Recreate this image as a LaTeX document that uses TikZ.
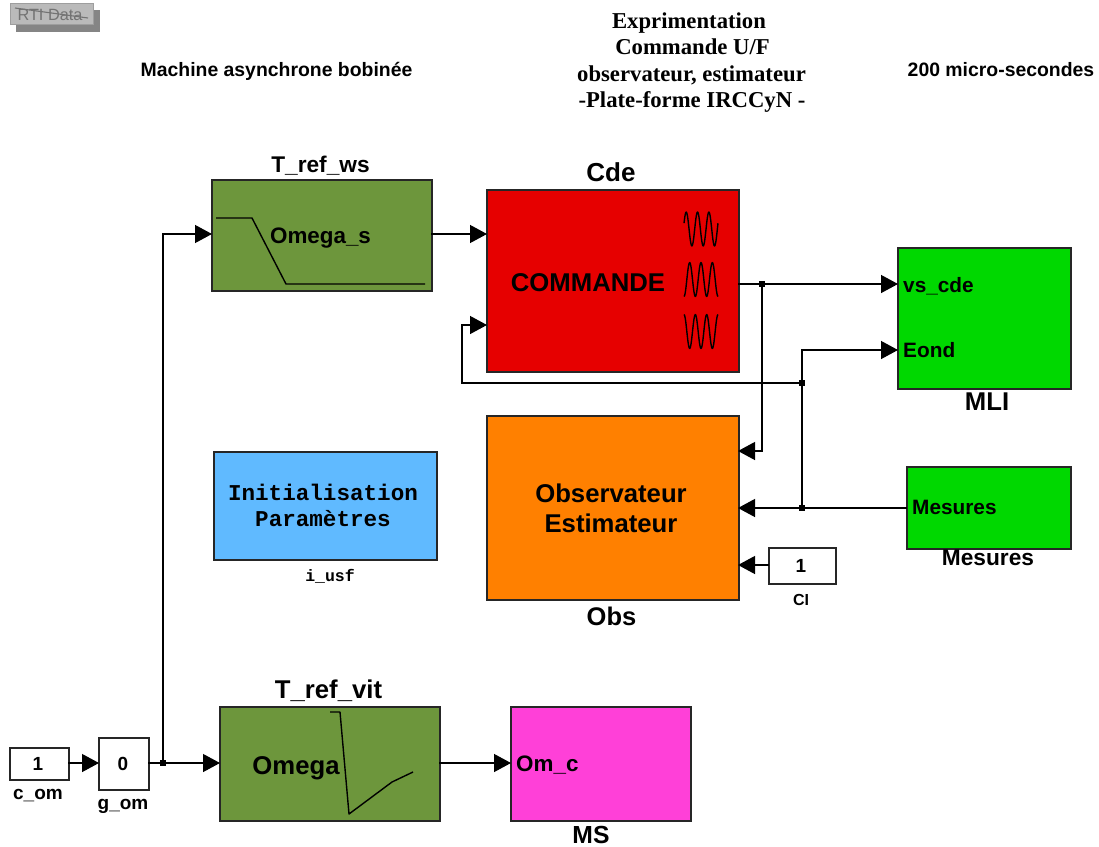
\documentclass[tikz,border=0pt]{standalone}
\usepackage{fontspec}
\setmainfont{Liberation Sans}
\newfontfamily\titleserif{Liberation Serif}
\newfontfamily\blockmono{Liberation Mono}
\usetikzlibrary{arrows.meta,shadows,positioning,calc}
\definecolor{olivegreen}{HTML}{6D963C}
\definecolor{cderred}{HTML}{E60000}
\definecolor{mligreen}{HTML}{00D800}
\definecolor{obsorange}{HTML}{FF8000}
\definecolor{initblue}{HTML}{60BAFF}
\definecolor{mspink}{HTML}{FF40D8}
\tikzset{
  x=1pt,y=1pt,
  block/.style={draw=black!85,line width=1.7pt,inner sep=0pt,anchor=north west,xshift=-1pt,yshift=1pt,
    drop shadow={shadow xshift=1.2pt,shadow yshift=-1.2pt,fill=black!40,opacity=1}},
  wire/.style={draw=black,line width=1.3pt,-{Triangle[length=17pt,width=18pt]},shorten >=0pt},
  plainwire/.style={draw=black,line width=1.3pt},
  jdot/.style={fill=black,inner sep=0pt,minimum size=6.5pt,draw=none,rectangle},
  icon/.style={draw=black,line width=1.4pt,line join=round},
  lab/.style={font=\bfseries\fontsize{#1}{#1}\selectfont,inner sep=0pt,anchor=base,text=black},
  lab/.default=21,
  ttl/.style={font=\titleserif\bfseries\fontsize{22.7}{22.7}\selectfont,inner sep=0pt,anchor=base},
  mono/.style={font=\blockmono\bfseries\fontsize{#1}{#1}\selectfont,inner sep=0pt,anchor=base},
}
\begin{document}
\begin{tikzpicture}
\useasboundingbox (0,0) rectangle (1099,-846);
% RTI Data
\fill[black!48] (16,-10) rectangle (100,-32);
\node[draw=black!38,fill=black!27,line width=1.3pt,anchor=north west,minimum width=83pt,minimum height=21pt,inner sep=0pt] (rti) at (10,-3) {};
\node[inner sep=0pt,text=black!55,font=\fontsize{16.3}{16.3}\selectfont] (rtit) at (50,-14.5) {RTI Data};
\draw[black!55,line width=1.1pt] (15,-8) -- (88,-18);
% titles
\node[lab=19.4] (t1) at (276.5,-76.5) {Machine asynchrone bobinée};
\node[lab=19.4] (t3) at (1001,-76.5) {200 micro-secondes};
\node[ttl] (t21) at (689,-28) {Exprimentation};
\node[ttl] (t22) at (692.5,-54) {Commande U/F};
\node[ttl] (t23) at (691.5,-81) {observateur, estimateur};
\node[ttl] (t24) at (692,-107) {-Plate-forme IRCCyN -};
% blocks
\node[block,fill=olivegreen,minimum width=220pt,minimum height=111pt] (ws) at (212,-180) {};
\node[block,fill=cderred,minimum width=252pt,minimum height=182pt] (cde) at (487,-190) {};
\node[block,fill=mligreen,minimum width=173pt,minimum height=141pt] (mli) at (898,-248) {};
\node[block,fill=obsorange,minimum width=252pt,minimum height=184pt] (obs) at (487,-416) {};
\node[block,fill=mligreen,minimum width=164pt,minimum height=82pt] (mes) at (907,-467) {};
\node[block,fill=initblue,minimum width=223pt,minimum height=108pt] (init) at (214,-452) {};
\node[block,fill=white,minimum width=67pt,minimum height=36pt] (ci) at (769,-548) {};
\node[block,fill=white,minimum width=59pt,minimum height=32pt] (com) at (10,-748) {};
\node[block,fill=white,minimum width=50pt,minimum height=52pt] (gom) at (99,-738) {};
\node[block,fill=olivegreen,minimum width=220pt,minimum height=114pt] (vit) at (220,-707) {};
\node[block,fill=mspink,minimum width=180pt,minimum height=114pt] (ms) at (511,-707) {};
% icons
\draw[icon] (216,-218) -- (252,-218) -- (286,-284) -- (425,-284);
\draw[icon] (330,-712) -- (340,-712) -- (349,-814) -- (392,-782) -- (413,-772);
\draw[icon] plot[domain=0:1,samples=61,smooth] ({684+34*\x},{-229+17*sin(1080*\x+20)});
\draw[icon] plot[domain=0:1,samples=61,smooth] ({684+34*\x},{-279.5+17*sin(1080*\x-90)});
\draw[icon] plot[domain=0:1,samples=61,smooth] ({684+34*\x},{-331.5+17*sin(1080*\x+90)});
% inner texts
\node[lab=22.4] (wstext) at (320.5,-243) {Omega\_s};
\node[lab=25.7] (cdetext) at (588,-291.5) {COMMANDE};
\node[lab=25.7] (vittext) at (296,-774) {Omega};
\node[lab=25.7] (obs1) at (611,-502.5) {Observateur};
\node[lab=25.7] (obs2) at (611,-532.5) {Estimateur};
\node[lab=20.8,anchor=base west] (vs) at (903,-292.5) {vs\_cde};
\node[lab=20.8,anchor=base west] (eond) at (903,-357.5) {Eond};
\node[lab=20.8,anchor=base west] (mestext) at (912,-514.5) {Mesures};
\node[lab=22.4,anchor=base west] (omc) at (516,-771) {Om\_c};
\node[mono=22.6] (in1) at (323,-500) {Initialisation};
\node[mono=22.6] (in2) at (323,-526) {Paramètres};
\node[lab=19] (cit) at (801,-572) {1};
\node[lab=19] (comt) at (38,-770) {1};
\node[lab=19] (gomt) at (123,-770) {0};
% labels
\node[lab=22.7] (l1) at (320.5,-172) {T\_ref\_ws};
\node[lab=26] (l2) at (611,-181) {Cde};
\node[lab=25.7] (l3) at (987,-410) {MLI};
\node[lab=22.7] (l4) at (988,-565.5) {Mesures};
\node[lab=25.5] (l5) at (611.5,-625) {Obs};
\node[lab=25.7] (l6) at (328.5,-698) {T\_ref\_vit};
\node[lab=24.7] (l7) at (591,-843) {MS};
\node[lab=16] (l8) at (801,-605) {CI};
\node[lab=19] (l9) at (38,-799) {c\_om};
\node[lab=19] (l10) at (123,-809) {g\_om};
\node[mono=16.5] (l11) at (330,-581) {i\_usf};
% ports and junctions
\coordinate (wsin) at (212,-234);
\coordinate (wsout) at (431,-234);
\coordinate (cdein1) at (487,-234);
\coordinate (cdein2) at (487,-325);
\coordinate (cdeout) at (738,-284);
\coordinate (mliin1) at (898,-284);
\coordinate (mliin2) at (898,-350);
\coordinate (obsin1) at (738,-451);
\coordinate (obsin2) at (738,-508);
\coordinate (obsin3) at (738,-565);
\coordinate (mesout) at (907,-508);
\coordinate (ciout) at (769,-565);
\coordinate (comout) at (68,-763);
\coordinate (gomin) at (99,-763);
\coordinate (gomout) at (148,-763);
\coordinate (vitin) at (220,-763);
\coordinate (vitout) at (439,-763);
\coordinate (msin) at (511,-763);
\coordinate (fbl) at (462,-383);
\node[jdot] (j1) at (163,-763) {};
\node[jdot] (j2) at (762,-284) {};
\node[jdot] (j3) at (802,-508) {};
\node[jdot] (j4) at (802,-383) {};
% connectors
\draw[wire] (comout) -- (gomin);
\draw[plainwire] (gomout) -- (j1);
\draw[wire] (j1) -- (vitin);
\draw[wire] (j1.center) |- (wsin);
\draw[wire] (wsout) -- (cdein1);
\draw[plainwire] (cdeout) -- (j2);
\draw[wire] (j2) -- (mliin1);
\draw[wire] (j2.center) |- (obsin1);
\draw[plainwire] (mesout) -- (j3);
\draw[wire] (j3) -- (obsin2);
\draw[plainwire] (j3.center) -- (j4.center);
\draw[wire] (j4.center) |- (mliin2);
\draw[wire] (j4.center) -- (fbl) |- (cdein2);
\draw[wire] (ciout) -- (obsin3);
\draw[wire] (vitout) -- (msin);
\end{tikzpicture}
\end{document}
